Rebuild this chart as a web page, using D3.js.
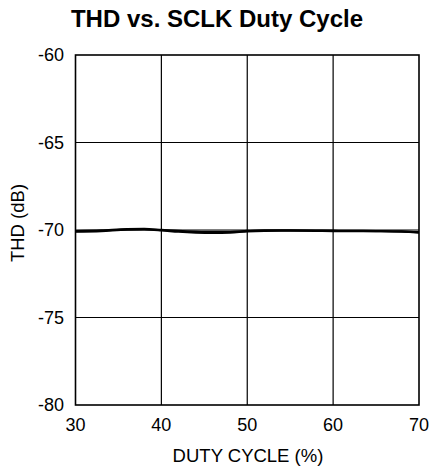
<!DOCTYPE html>
<html><head><meta charset="utf-8">
<script src="https://cdn.jsdelivr.net/npm/d3@7"></script>
<style>body{margin:0;background:#fff}svg{display:block}text{font-family:"Liberation Sans",Arial,sans-serif;fill:#000}</style>
</head><body>
<svg id="c" width="431" height="470"></svg>
<script>
const xTicks = [30, 40, 50, 60, 70];
const yTicks = [-80, -75, -70, -65, -60];
const dutyCycle = [30, 33, 36, 38, 40, 42, 44, 46, 48, 50, 52, 55, 58, 60, 62, 65, 68, 70];
const thdA = [-70.10, -70.06, -69.98, -69.97, -70.02, -70.10, -70.15, -70.17, -70.15, -70.08, -70.05, -70.04, -70.05, -70.06, -70.06, -70.07, -70.09, -70.12];
const thdB = [-70.06, -70.02, -69.95, -69.94, -69.99, -70.05, -70.09, -70.11, -70.10, -70.05, -70.02, -70.02, -70.03, -70.04, -70.05, -70.06, -70.08, -70.15];

const svg = d3.select("#c");
const L = 75.5, R = 419, T = 55, B = 405;
const x = d3.scaleLinear().domain([30, 70]).range([L, R]);
const y = d3.scaleLinear().domain([-80, -60]).range([B, T]);

svg.append("text").attr("x", 217).attr("y", 27).attr("text-anchor", "middle")
  .style("font-size", "24px").style("font-weight", "bold").text("THD vs. SCLK Duty Cycle");

const g = svg.append("g");
g.append("g").selectAll("line").data(xTicks.slice(1, -1)).join("line")
  .attr("x1", d => x(d)).attr("x2", d => x(d)).attr("y1", T).attr("y2", B)
  .attr("stroke", "#000").attr("stroke-width", 1.2);
g.append("g").selectAll("line").data(yTicks.slice(1, -1)).join("line")
  .attr("y1", d => y(d)).attr("y2", d => y(d)).attr("x1", L).attr("x2", R)
  .attr("stroke", "#000").attr("stroke-width", 1.2);

const line = d3.line().x((d, i) => x(dutyCycle[i])).y(d => y(d)).curve(d3.curveMonotoneX);
[thdA, thdB].forEach(s => {
  g.append("path").datum(s).attr("d", line).attr("fill", "none")
    .attr("stroke", "#000").attr("stroke-width", 2.2);
});

g.append("rect").attr("x", L).attr("y", T).attr("width", R - L).attr("height", B - T)
  .attr("fill", "none").attr("stroke", "#000").attr("stroke-width", 1.6);

svg.append("g").selectAll("text").data(yTicks).join("text")
  .attr("x", 64).attr("y", d => y(d)).attr("dy", "0.36em").attr("text-anchor", "end")
  .style("font-size", "18px").text(d => d);
svg.append("g").selectAll("text").data(xTicks).join("text")
  .attr("x", d => x(d)).attr("y", 431).attr("text-anchor", "middle")
  .style("font-size", "18px").text(d => d);

svg.append("text").attr("x", 248).attr("y", 462).attr("text-anchor", "middle")
  .style("font-size", "18.5px").text("DUTY CYCLE (%)");
svg.append("text").attr("transform", "translate(24,223) rotate(-90)").attr("text-anchor", "middle")
  .style("font-size", "18.5px").text("THD (dB)");
</script>
</body></html>
